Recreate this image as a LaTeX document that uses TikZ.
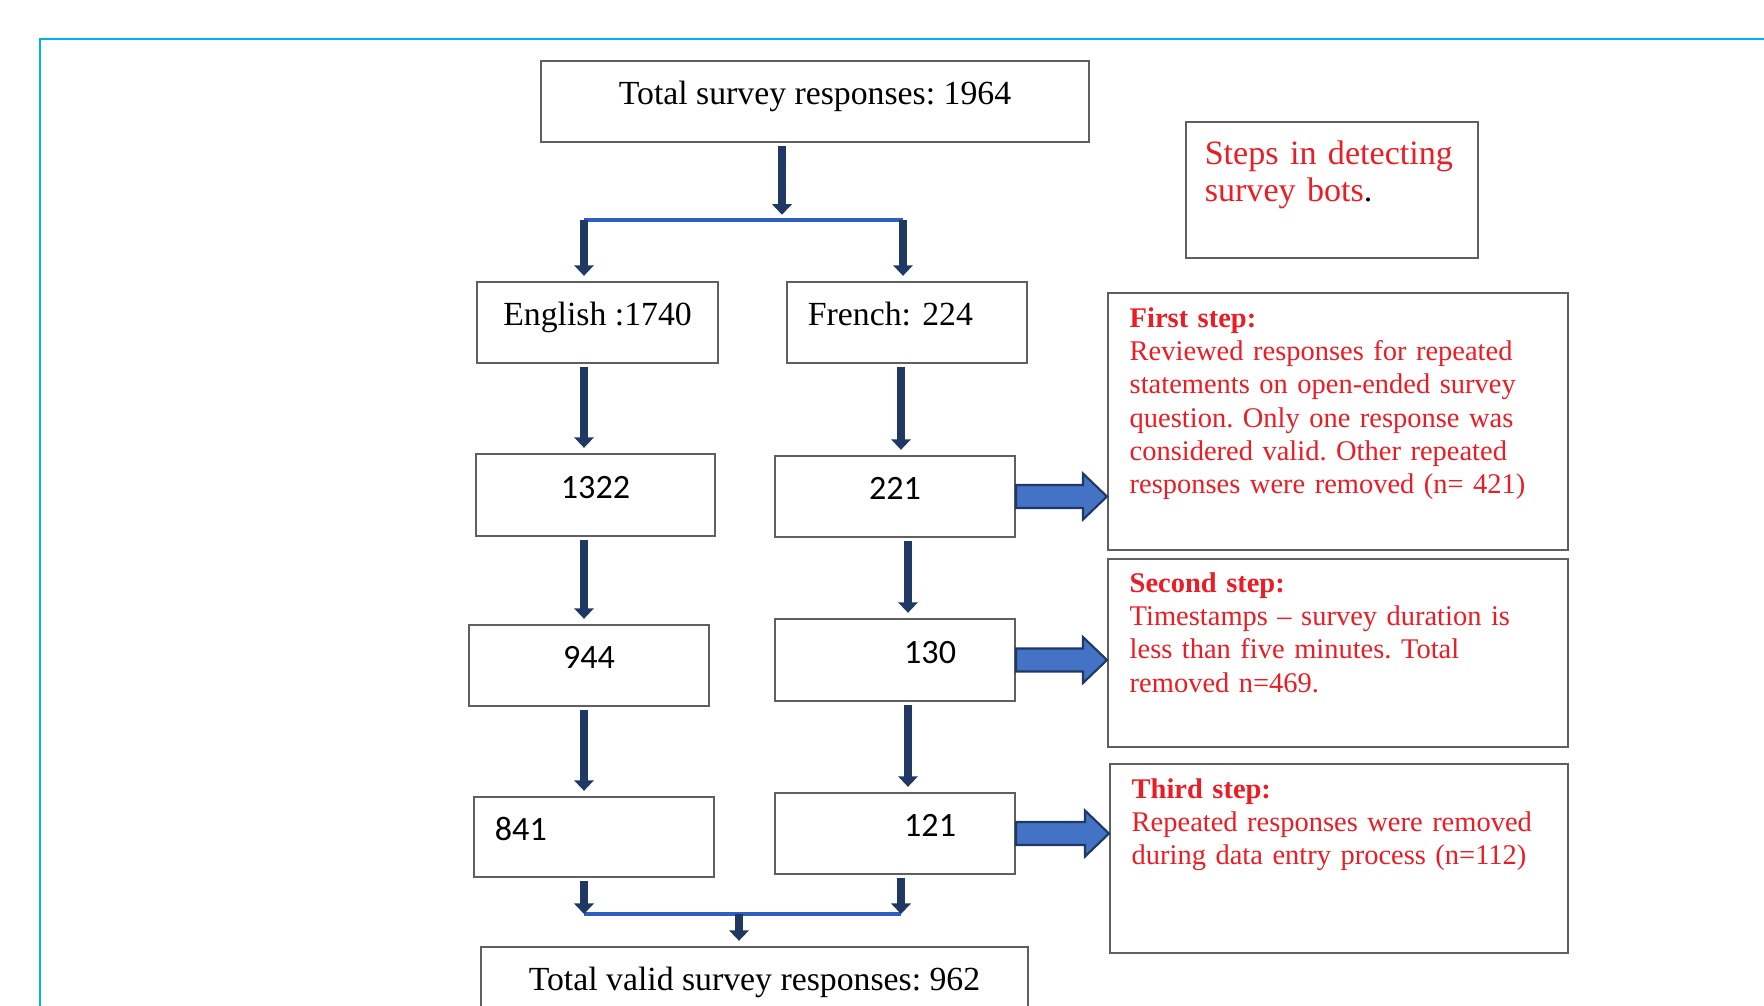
\documentclass[tikz,border=0pt]{standalone}
\usepackage{fontspec}
\setmainfont{Liberation Serif}
\newfontfamily\calibri{Carlito}
\usetikzlibrary{arrows.meta,calc}
\frenchspacing
\definecolor{framecyan}{RGB}{0,176,240}
\definecolor{navyline}{RGB}{31,56,100}
\definecolor{barblue}{RGB}{47,95,190}
\definecolor{fatblue}{RGB}{68,114,196}
\definecolor{boxgray}{RGB}{95,95,95}
\definecolor{stepred}{RGB}{236,28,36}

% wide right-pointing block arrow from #1 to tip #2
\newcommand{\fatarrow}[2]{%
  \filldraw[fill=fatblue, draw=navyline, line width=0.6pt]
    ($(#1)+(0,11.5)$) -- ($(#2)+(-24,11.5)$) -- ($(#2)+(-24,23)$) -- (#2)
    -- ($(#2)+(-24,-23)$) -- ($(#2)+(-24,-11.5)$) -- ($(#1)+(0,-11.5)$) -- cycle;}

\begin{document}
\begin{tikzpicture}[x=0.01cm,y=-0.01cm,
    box/.style={draw=boxgray, line width=0.5pt, inner sep=0pt, text height=6pt, text depth=4.3pt},
    plainbox/.style={draw=boxgray, line width=0.5pt, inner sep=0pt},
    serif/.style={font=\fontsize{9.6}{11}\selectfont},
    num/.style={font=\calibri\fontsize{9.7}{11}\selectfont},
    redtxt/.style={text=stepred, inner sep=0pt, anchor=base west, align=left, text width=4.3cm,
      font=\fontsize{8.1}{9.48}\selectfont},
    titletxt/.style={text=stepred, inner sep=0pt, anchor=base west, align=left, text width=2.7cm,
      font=\fontsize{9.7}{10.5}\selectfont},
    flow/.style={draw=navyline, line width=2pt, -{Triangle[width=5.5pt,length=3pt]},
      shorten <=1pt, shorten >=1.5pt},
    barline/.style={draw=barblue, line width=1.2pt}]
  \useasboundingbox (0,0) rectangle (1764,1005);
  \clip (0,0) rectangle (1764,1005);
  % frame
  \draw[framecyan, line width=0.6pt] (40,1020) -- (40,39) -- (1780,39);

  % left flow
  \node[box, serif, minimum width=5.48cm, minimum height=0.81cm] (top) at (815,101.5) {Total survey responses: 1964};
  \node[box, serif, minimum width=2.41cm, minimum height=0.81cm] (eng) at (597.5,322.5) {English :1740};
  \node[box, serif, minimum width=2.40cm, minimum height=0.81cm, align=left, text width=1.98cm, inner xsep=0.21cm] (fre) at (907,322.5) {French: 224};
  \node[box, num, minimum width=2.39cm, minimum height=0.82cm] (n1322) at (595.5,495) {1322};
  \node[box, num, minimum width=2.40cm, minimum height=0.81cm] (n221) at (895,496.5) {221};
  \node[box, num, minimum width=2.40cm, minimum height=0.81cm] (n944) at (589,665.5) {944};
  \node[box, num, minimum width=2.40cm, minimum height=0.82cm, align=right, text width=1.22cm, inner xsep=0.59cm] (n130) at (895,660) {130};
  \node[box, num, minimum width=2.40cm, minimum height=0.80cm, align=left, text width=1.98cm, inner xsep=0.21cm] (n841) at (594,837) {841};
  \node[box, num, minimum width=2.40cm, minimum height=0.81cm, align=right, text width=1.22cm, inner xsep=0.59cm] (n121) at (895,833.5) {121};
  \node[box, serif, minimum width=5.47cm, minimum height=0.80cm] (total) at (754.5,987) {Total valid survey responses: 962};

  % right boxes
  \node[plainbox, minimum width=2.92cm, minimum height=1.36cm] (steps) at (1332,190) {};
  \node[plainbox, minimum width=4.60cm, minimum height=2.57cm] (step1) at (1338,421.5) {};
  \node[plainbox, minimum width=4.60cm, minimum height=1.88cm] (step2) at (1338,653) {};
  \node[plainbox, minimum width=4.58cm, minimum height=1.89cm] (step3) at (1339,858.5) {};
  \node[titletxt] (ttl) at ([xshift=0.19cm,yshift=-0.43cm]steps.north west) {Steps in detecting\\survey bots{\color{black}.}};
  \node[redtxt] (s1txt) at ([xshift=0.22cm,yshift=-0.35cm]step1.north west) {\textbf{First step:}\\Reviewed responses for repeated\\statements on open-ended survey\\question. Only one response was\\considered valid. Other repeated\\responses were removed (n= 421)};
  \node[redtxt] (s2txt) at ([xshift=0.22cm,yshift=-0.34cm]step2.north west) {\textbf{Second step:}\\Timestamps -- survey duration is\\less than five minutes. Total\\removed n=469.};
  \node[redtxt] (s3txt) at ([xshift=0.22cm,yshift=-0.35cm]step3.north west) {\textbf{Third step:}\\Repeated responses were removed\\during data entry process (n=112)};

  % split and merge points
  \coordinate (sL) at (584,220);
  \coordinate (sM) at (782,220);
  \coordinate (sR) at (903,220);
  \coordinate (mL) at (584,914);
  \coordinate (mM) at (739,914);
  \coordinate (mR) at (901,914);
  \coordinate (cL) at (584,0);
  \coordinate (cR) at (901,0);
  \coordinate (cR2) at (908,0);

  \draw[barline] (sL) -- (sR);
  \draw[barline] (mL) -- (mR);
  \draw[flow] (top.south -| sM) -- (sM);
  \draw[flow, shorten <=0pt] (sL) -- (sL |- eng.north);
  \draw[flow, shorten <=0pt] (sR) -- (sR |- fre.north);
  \draw[flow] (eng.south -| cL) -- (n1322.north -| cL);
  \draw[flow] (n1322.south -| cL) -- (n944.north -| cL);
  \draw[flow] (n944.south -| cL) -- (n841.north -| cL);
  \draw[flow] (fre.south -| cR) -- (n221.north -| cR);
  \draw[flow] (n221.south -| cR2) -- (n130.north -| cR2);
  \draw[flow] (n130.south -| cR2) -- (n121.north -| cR2);
  \draw[flow, shorten >=0pt] (n841.south -| mL) -- (mL);
  \draw[flow, shorten >=0pt] (n121.south -| mR) -- (mR);
  \draw[flow, shorten <=0pt] (mM) -- (mM |- total.north);

  % block arrows to the steps
  \coordinate (tip1) at (step1.west |- n221.east);
  \coordinate (tip2) at (step2.west |- n130.east);
  \coordinate (tip3) at (step3.west |- n121.east);
  \fatarrow{n221.east}{tip1}
  \fatarrow{n130.east}{tip2}
  \fatarrow{n121.east}{tip3}
\end{tikzpicture}
\end{document}
